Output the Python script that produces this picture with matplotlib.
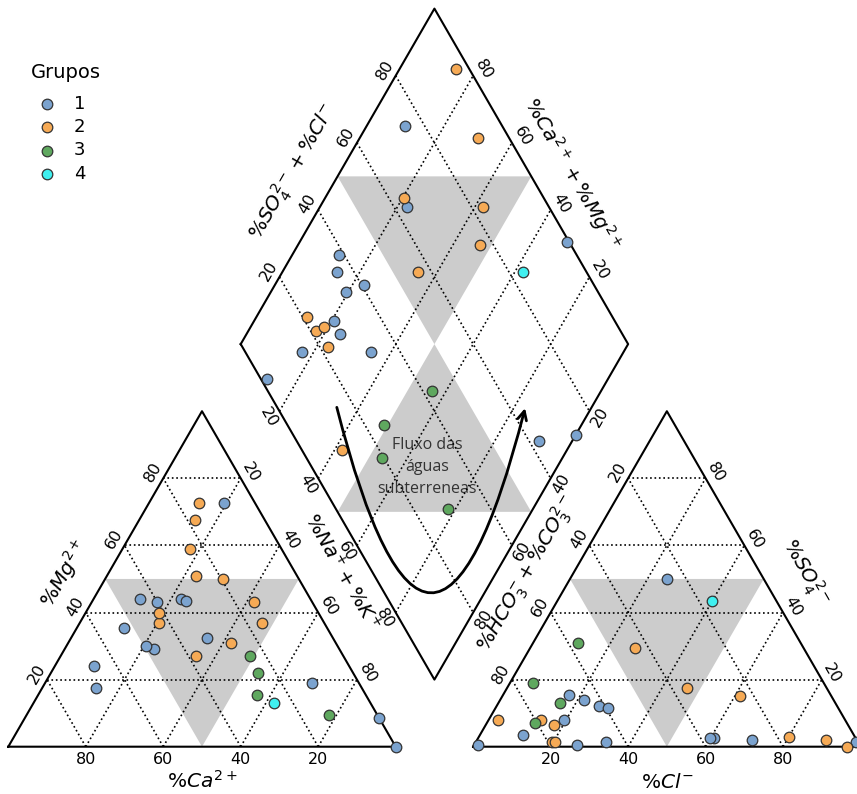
import numpy as np
import matplotlib.pyplot as plt
from matplotlib.patches import Polygon, FancyArrowPatch
from matplotlib.path import Path

# composicao ionica (% meq) de cada amostra
grupo = [1, 1, 1, 1, 1, 1, 1, 1, 1, 1, 1, 1, 1, 1,
         2, 2, 2, 2, 2, 2, 2, 2, 2, 2, 2,
         3, 3, 3, 3,
         4]
ca = [66, 33.5, 12, 52.5, 68.5, 48, 8, 49.5, 32.5, 40, 32.5, 44, 0, 0,
      18, 19.5, 42.5, 15, 16, 38, 14.5, 23.5, 41, 26, 27,
      28, 24, 24.5, 12.5,
      25]
mg = [24, 44, 19, 35.5, 17.5, 29, 72.5, 30, 43.5, 43, 32.5, 44, 8.5, 0,
      67.5, 50, 37, 43, 37, 27, 72.5, 59, 40, 51, 31,
      15.5, 27, 22, 9.5,
      13]
nak = [10, 22.5, 69, 12, 14, 23, 19.5, 20.5, 24, 17, 35, 12, 91.5, 100,
       14.5, 30.5, 20.5, 42, 47, 35, 13, 17.5, 19, 23, 42,
       56.5, 49, 53.5, 78,
       62]
hco3 = [25, 36.5, 0.5, 61.5, 64.5, 59.5, 65, 72.5, 73, 85.5, 67.5, 98.5, 37.5, 27,
        3.5, 8, 36, 17, 23.5, 43.5, 79, 78.5, 76, 78, 89.5,
        57.5, 75, 80.5, 71,
        16.5]
so4 = [50, 2.5, 1.5, 12, 14, 11.5, 1.5, 8, 0.5, 3.5, 15.5, 0.5, 2.5, 2,
       0, 2, 17.5, 3, 15, 29.5, 1.5, 8, 6.5, 1.5, 8,
       31, 19, 7, 13,
       43.5]
cl = [25, 61, 98, 26.5, 21.5, 29, 33.5, 19.5, 26.5, 11, 17, 1, 60, 71,
      96.5, 90, 46.5, 80, 61.5, 27, 19.5, 13.5, 17.5, 20.5, 2.5,
      11.5, 6, 12.5, 16,
      40]

grupos = [1, 2, 3, 4]
cores = ['#7ba3cf', '#f6aa55', '#5fa85f', '#40f0f0']

h = np.sqrt(3) / 2
off = 0.2  # distancia entre os triangulos


def cation_xy(c, m, n):
    t = c + m + n
    m, n = m / t, n / t
    return n + 0.5 * m, h * m


def anion_xy(b, s, c):
    t = b + s + c
    s, c = s / t, c / t
    return 1 + off + c + 0.5 * s, h * s


def diamond_xy(n, a):
    # n = fraccao Na+K, a = fraccao SO4+Cl
    return 0.6 + 0.5 * (n + a), h * (1.2 + a - n)


fig = plt.figure(figsize=(8.57, 7.94), dpi=100)
ax = fig.add_axes([0, 0, 1, 1])
ax.set_xlim(-0.0214, 2.1908)
ax.set_ylim(-0.1221, 1.9275)
ax.axis('off')

cinza = '#cccccc'
# zonas sombreadas
ax.add_patch(Polygon([cation_xy(50, 50, 0), cation_xy(0, 50, 50), cation_xy(50, 0, 50)],
                     fc=cinza, ec='none', zorder=1))
ax.add_patch(Polygon([anion_xy(50, 50, 0), anion_xy(0, 50, 50), anion_xy(50, 0, 50)],
                     fc=cinza, ec='none', zorder=1))
ax.add_patch(Polygon([diamond_xy(0, 0.5), diamond_xy(0.5, 1), diamond_xy(0.5, 0.5)],
                     fc=cinza, ec='none', zorder=1))
ax.add_patch(Polygon([diamond_xy(0.5, 0), diamond_xy(1, 0.5), diamond_xy(0.5, 0.5)],
                     fc=cinza, ec='none', zorder=1))

ax.text(1.081, 0.722, 'Fluxo das\náguas\nsubterreneas', ha='center', va='center',
        fontsize=11.5, family='Open Sans', color='#333333', linespacing=1.5, zorder=2)

grid = dict(color='black', ls=':', lw=1.2, zorder=3)
borda = dict(color='black', lw=1.5, zorder=4)
fracs = [0.2, 0.4, 0.6, 0.8]

# contornos
for x0 in [0, 1 + off]:
    ax.plot([x0, x0 + 0.5, x0 + 1, x0], [0, h, 0, 0], **borda)
    for f in fracs:
        ax.plot([x0 + f / 2, x0 + 1 - f / 2], [f * h, f * h], **grid)
        ax.plot([x0 + f, x0 + f + (1 - f) / 2], [0, (1 - f) * h], **grid)
        ax.plot([x0 + f, x0 + f / 2], [0, f * h], **grid)

dv = [diamond_xy(0, 0), diamond_xy(0, 1), diamond_xy(1, 1), diamond_xy(1, 0), diamond_xy(0, 0)]
ax.plot([p[0] for p in dv], [p[1] for p in dv], **borda)
for f in fracs:
    p, q = diamond_xy(f, 0), diamond_xy(f, 1)
    ax.plot([p[0], q[0]], [p[1], q[1]], **grid)
    p, q = diamond_xy(0, f), diamond_xy(1, f)
    ax.plot([p[0], q[0]], [p[1], q[1]], **grid)

# rotulos das escalas
tk = dict(fontsize=11.5, ha='center', va='center', rotation_mode='anchor')
dx, dy = 0.027, 0.0155
for v in [20, 40, 60, 80]:
    f = v / 100
    x, y = cation_xy(v, 0, 100 - v)
    ax.text(x, y - 0.032, str(v), **tk)
    x, y = cation_xy(100 - v, v, 0)
    ax.text(x - dx, y + dy, str(v), rotation=60, **tk)
    x, y = cation_xy(0, 100 - v, v)
    ax.text(x + dx, y + dy, str(v), rotation=-60, **tk)
    x, y = anion_xy(100 - v, 0, v)
    ax.text(x, y - 0.032, str(v), **tk)
    x, y = anion_xy(v, 100 - v, 0)
    ax.text(x - dx, y + dy, str(v), rotation=60, **tk)
    x, y = anion_xy(0, v, 100 - v)
    ax.text(x + dx, y + dy, str(v), rotation=-60, **tk)
    x, y = diamond_xy(0, f)
    ax.text(x - dx, y + dy, str(v), rotation=60, **tk)
    x, y = diamond_xy(1 - f, 1)
    ax.text(x + dx, y + dy, str(v), rotation=-60, **tk)
    x, y = diamond_xy(f, 0)
    ax.text(x - dx, y - dy, str(v), rotation=-60, **tk)
    x, y = diamond_xy(1, 1 - f)
    ax.text(x + dx, y - dy, str(v), rotation=60, **tk)

lb = dict(fontsize=14.5, ha='center', va='center', rotation_mode='anchor')
ax.text(0.5, -0.088, r'$\%Ca^{2+}$', **lb)
ax.text(0.144, 0.448, r'$\%Mg^{2+}$', rotation=60, **lb)
ax.text(0.861, 0.451, r'$\%Na^{+}+\%K^{+}$', rotation=-60, **lb)
ax.text(1.339, 0.448, r'$\%HCO_3^{-}+\%CO_3^{2-}$', rotation=60, **lb)
ax.text(2.057, 0.448, r'$\%SO_4^{2-}$', rotation=-60, **lb)
ax.text(1.7, -0.092, r'$\%Cl^{-}$', **lb)
ax.text(0.737, 1.483, r'$\%SO_4^{2-}+\%Cl^{-}$', rotation=60, **lb)
ax.text(1.457, 1.478, r'$\%Ca^{2+}+\%Mg^{2+}$', rotation=-60, **lb)

# amostras
ca_a, mg_a, nak_a = np.array(ca), np.array(mg), np.array(nak)
hco3_a, so4_a, cl_a = np.array(hco3), np.array(so4), np.array(cl)
g_a = np.array(grupo)
for g, cor in zip(grupos, cores):
    k = g_a == g
    cx, cy = cation_xy(ca_a[k], mg_a[k], nak_a[k])
    axx, ayy = anion_xy(hco3_a[k], so4_a[k], cl_a[k])
    n = nak_a[k] / (ca_a[k] + mg_a[k] + nak_a[k])
    a = (so4_a[k] + cl_a[k]) / (hco3_a[k] + so4_a[k] + cl_a[k])
    dxp, dyp = diamond_xy(n, a)
    sty = dict(s=58, c=cor, edgecolors='#333333', linewidths=0.9, zorder=6)
    ax.scatter(cx, cy, label=str(g), **sty)
    ax.scatter(axx, ayy, **sty)
    ax.scatter(dxp, dyp, **sty)

# seta do fluxo
seta = Path([(0.848, 0.876), (1.091, -0.077), (1.334, 0.874)],
            [Path.MOVETO, Path.CURVE3, Path.CURVE3])
ax.add_patch(FancyArrowPatch(path=seta, arrowstyle='->', mutation_scale=16,
                             lw=2, color='black', zorder=7))

fig.text(66 / 857, 1 - 72 / 794, 'Grupos', fontsize=14, ha='center', va='center')
ax.legend(loc='upper left', bbox_to_anchor=(0.025, 0.890),
          frameon=False, fontsize=13, labelspacing=0.3,
          handletextpad=0.5, borderaxespad=0)

fig.savefig('out.png', dpi=100)
